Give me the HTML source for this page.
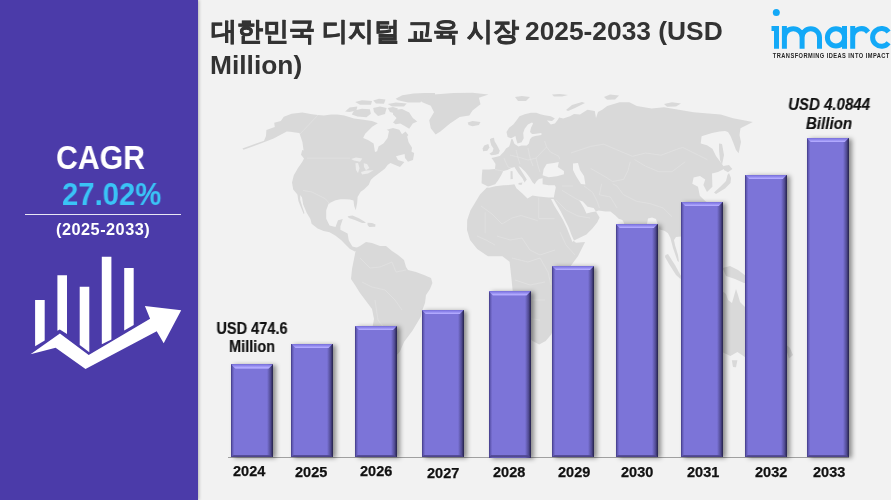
<!DOCTYPE html>
<html><head><meta charset="utf-8">
<style>
*{margin:0;padding:0;box-sizing:border-box}
html,body{width:891px;height:500px;overflow:hidden;background:#f2f2f2;font-family:"Liberation Sans",sans-serif;-webkit-font-smoothing:antialiased}
#left{position:absolute;left:0;top:0;width:198px;height:500px;background:#4b3ba9;box-shadow:1px 0 3px rgba(0,0,0,0.25)}
.t{position:absolute;white-space:nowrap;font-weight:bold;will-change:transform}
#title{will-change:transform;position:absolute;left:210px;top:14px;font-size:26.35px;line-height:34px;font-weight:bold;color:#333;width:560px}
.bar{position:absolute;box-shadow:3px 0.5px 4.5px rgba(0,0,0,0.42);background:
 linear-gradient(90deg,rgba(38,34,80,0) calc(100% - 6px),rgba(38,34,80,0.5) calc(100% - 2.5px),rgba(30,27,62,0.93) 100%),
 linear-gradient(90deg,rgba(50,42,110,0.8) 0,rgba(60,52,130,0.4) 1.5px,rgba(75,67,170,0) 3.2px),
 #7c74d8}
.bar:before{content:"";position:absolute;left:0;right:0;top:0;height:4.5px;background:linear-gradient(#776ed8 0,#8e86ec 1.6px,#b3abff 3.6px,#aca4fa 4.5px);clip-path:polygon(0 0,100% 0,calc(100% - 4.5px) 100%,4.5px 100%)}
.bar:after{content:"";position:absolute;left:0;right:0;bottom:0;height:2.8px;background:linear-gradient(rgba(82,74,150,0.85),rgba(72,64,128,0.95));clip-path:polygon(2.8px 0,calc(100% - 2.8px) 0,100% 100%,0 100%)}
.yr{will-change:transform;position:absolute;font-size:14.5px;-webkit-text-stroke:0.25px #111;font-weight:bold;color:#111;top:465px}
#axis{position:absolute;left:228.2px;top:456.9px;width:621px;height:1.1px;background:#a0a0a0}
</style></head><body>
<svg id="map" width="891" height="500" style="position:absolute;left:0;top:0">
<g fill="#d9d9d9">
<polygon points="242.4,148.6 252.0,145.0 264.0,140.8 266.0,136.0 266.4,130.0 274.8,127.0 274.2,122.8 280.8,121.0 283.8,116.8 291.6,113.8 302.4,112.6 312.0,114.2 318.0,115.0 324.0,115.4 331.2,114.4 337.2,114.4 344.4,115.6 354.0,118.6 363.6,119.8 372.0,121.0 377.8,123.3 372.2,126.8 365.2,133.8 363.1,138.0 368.0,140.1 373.6,143.6 375.0,152.0 377.1,151.3 378.5,146.4 383.4,143.6 387.6,138.0 389.0,131.0 386.7,129.7 393.0,127.9 399.3,129.7 402.0,134.2 405.6,131.5 408.3,135.1 407.2,136.6 408.6,142.2 412.1,147.8 411.4,152.0 407.2,153.4 401.6,154.8 396.0,156.2 398.0,160.0 404.4,162.0 400.0,167.0 390.4,163.0 387.6,165.0 384.8,168.8 379.2,173.0 373.6,177.2 370.8,180.0 368.8,184.8 364.0,189.6 360.7,191.7 357.6,197.0 357.2,203.0 355.7,210.3 354.2,206.0 353.5,200.5 350.0,199.5 345.0,199.3 340.5,199.3 335.5,200.2 328.7,203.5 326.2,210.3 326.2,218.7 329.6,225.4 335.5,227.1 338.0,220.2 342.8,219.0 340.4,226.2 340.4,229.8 347.6,233.4 348.8,240.6 352.4,246.6 357.2,247.8 359.6,249.0 354.8,251.4 350.0,249.0 346.4,245.4 341.6,240.6 335.6,235.8 329.6,232.2 323.6,231.0 317.6,228.6 311.6,223.8 310.4,219.0 306.8,213.0 303.2,204.6 302.0,197.4 300.2,195.0 300.2,199.8 302.0,205.8 304.4,213.0 303.8,214.2 300.8,207.0 298.4,201.0 297.4,194.4 293.2,189.6 292.0,182.4 293.8,175.2 298.0,168.0 302.2,162.0 304.0,158.4 301.0,154.8 302.2,150.0 303.6,150.4 302.4,142.0 300.0,134.8 299.4,133.0 295.2,132.4 290.4,131.8 286.8,131.4 273.6,138.4 264.0,142.3 252.0,146.8 243.5,149.8"/>
<polygon points="356.0,248.0 360.0,246.0 366.0,242.0 372.0,243.0 380.0,246.0 386.0,246.0 392.0,251.0 398.0,255.0 404.0,260.0 406.0,267.0 408.0,270.0 416.0,272.0 424.0,275.0 431.0,278.0 432.4,283.0 430.0,289.0 426.0,295.0 425.0,303.0 422.0,311.0 420.8,316.8 412.4,330.8 404.0,342.0 399.8,351.7 392.0,360.0 385.0,375.0 382.0,395.0 378.0,410.0 372.0,418.0 368.0,410.0 366.0,390.0 368.0,360.0 372.0,330.0 374.0,319.0 372.0,309.0 366.0,301.0 360.0,293.0 355.0,285.0 351.0,279.0 352.0,269.0 354.0,259.0 356.0,249.0"/>
<polygon points="481.6,183.2 481.8,176.0 482.4,169.6 489.0,169.5 495.0,169.0 495.5,164.0 493.0,160.0 491.4,158.0 495.6,156.9 499.8,155.9 501.9,153.8 503.9,151.7 506.0,148.6 509.1,146.5 510.2,143.4 511.2,139.2 512.5,139.0 514.3,143.4 515.4,144.4 518.5,146.5 521.6,145.5 526.8,145.5 528.9,143.4 530.0,139.2 532.0,137.1 535.2,136.1 541.4,135.1 541.4,133.0 534.1,134.0 532.0,134.0 530.0,131.9 531.0,127.8 533.1,123.6 532.0,122.6 527.9,124.6 524.7,128.8 523.2,133.0 523.7,138.2 521.6,142.3 517.5,143.4 516.4,140.3 515.4,136.1 511.2,138.2 507.6,137.1 506.5,131.9 509.1,127.8 513.3,124.6 516.4,120.5 519.5,116.3 524.7,114.2 531.0,112.7 536.2,112.7 540.4,114.2 544.5,115.3 550.8,116.3 554.9,118.4 552.0,121.0 547.0,120.5 550.8,124.6 554.9,123.6 558.0,119.4 559.1,117.4 563.2,118.4 570.0,116.3 574.0,114.0 580.0,114.6 587.4,109.7 594.8,110.9 596.0,118.0 598.0,112.0 602.2,109.7 607.2,106.0 619.5,102.3 629.4,102.3 636.8,106.0 651.6,108.5 664.0,107.2 678.8,109.7 693.6,112.2 708.4,113.4 720.7,114.6 733.1,118.3 752.8,122.0 747.9,124.5 740.5,128.2 739.5,135.0 741.0,142.0 738.6,153.3 736.0,150.0 733.0,142.0 730.5,136.0 728.0,132.0 725.0,131.0 719.6,131.5 712.0,133.0 701.6,136.2 700.7,143.4 707.0,145.2 712.4,148.8 716.0,156.0 721.4,163.2 725.0,168.6 718.0,172.0 712.0,173.5 712.4,186.7 707.0,192.0 703.4,184.9 705.2,179.5 700.0,176.0 693.6,177.6 692.3,183.8 698.0,186.7 699.8,195.7 705.2,201.0 710.9,205.0 705.0,215.0 695.0,220.0 687.9,221.6 684.0,230.0 681.0,236.5 676.0,237.0 674.0,240.0 675.0,245.0 678.0,255.0 679.0,262.0 677.5,261.0 673.0,248.0 670.4,238.0 668.0,233.2 664.4,230.8 659.6,229.6 657.5,224.0 656.0,219.0 652.0,217.5 648.0,218.5 647.0,224.0 645.0,232.0 638.0,250.0 632.0,245.0 626.0,230.0 623.6,222.0 622.3,220.0 618.7,218.8 615.1,215.2 610.4,211.6 605.6,211.6 598.4,210.4 596.0,211.6 599.6,217.6 597.2,222.4 592.4,228.4 586.4,234.4 579.2,238.0 573.5,240.8 576.0,242.8 585.1,242.0 577.9,256.3 567.1,270.7 560.0,285.0 555.0,296.0 553.5,315.0 553.0,330.0 551.2,334.6 545.7,341.1 539.2,344.4 532.6,341.1 527.6,336.0 520.4,321.0 513.2,296.0 511.4,277.9 509.6,261.7 502.4,256.3 488.0,256.3 477.2,249.1 470.0,240.1 467.0,230.0 467.2,220.0 470.4,210.4 475.2,202.4 480.0,194.4 486.4,188.0 488.0,186.4"/>
<polygon points="690.0,310.0 695.0,300.0 705.0,295.0 714.0,292.0 722.0,291.0 726.0,294.0 728.0,300.0 732.0,303.0 734.0,296.0 736.0,289.0 738.0,295.0 740.0,302.0 748.0,310.0 755.0,320.0 758.0,335.0 752.0,350.0 745.0,357.0 737.4,352.0 730.4,356.0 722.0,352.0 715.0,348.0 705.0,350.0 695.0,352.0 690.0,340.0 688.0,320.0"/>
<polygon points="345.1,111.6 349.6,107.6 357.4,106.5 356.3,110.4 349.6,112.1"/>
<polygon points="351.8,114.4 354.1,110.4 361.9,108.8 369.8,109.3 370.9,113.8 366.4,117.2 357.4,116.6"/>
<polygon points="355.2,102.0 362.0,100.3 372.0,101.0 371.0,104.8 360.0,104.8"/>
<polygon points="373.2,100.5 379.0,98.7 385.5,99.5 384.0,103.7 376.0,103.5"/>
<polygon points="387.7,104.0 396.0,102.6 406.8,103.5 404.0,106.5 392.0,106.5"/>
<polygon points="373.2,108.0 380.0,106.5 386.6,108.0 385.0,114.0 378.0,116.0 374.0,112.0"/>
<polygon points="387.7,108.0 393.0,107.1 397.9,108.5 396.0,113.8 390.0,112.0"/>
<polygon points="395.6,98.7 402.3,95.3 413.6,93.6 424.8,93.0 435.0,93.0 435.0,97.0 422.5,99.2 420.3,102.6 408.0,102.6 397.9,100.3"/>
<polygon points="393.0,109.9 402.0,109.0 409.2,112.6 412.8,118.0 417.3,121.6 412.8,123.4 409.2,128.8 404.7,126.1 400.2,123.4 395.7,124.3 393.0,122.5 396.6,118.0 393.0,114.4"/>
<polygon points="731.8,360.3 737.4,360.3 736.0,367.3 733.0,367.0"/>
<polygon points="722.6,268.0 730.0,266.0 738.0,270.0 746.0,276.0 752.0,283.0 744.0,283.0 735.0,279.0 726.0,276.0"/>
<polygon points="786.4,345.0 790.0,348.0 793.0,355.0 789.0,358.4 787.0,352.0"/>
<polygon points="419.6,100.2 434.0,94.6 453.3,93.0 472.5,92.7 488.5,94.6 478.9,97.8 480.5,104.2 472.5,110.6 469.3,115.4 459.7,117.0 450.0,123.4 440.4,131.4 435.6,134.6 430.8,128.2 429.2,120.2 434.0,112.2 430.8,105.8 422.8,102.6"/>
<polygon points="467.7,122.6 472.5,121.0 480.5,122.1 478.9,125.0 472.5,126.3 468.5,125.0"/>
<polygon points="491.4,138.2 494.0,137.7 494.6,141.3 496.6,144.4 498.2,147.5 499.8,150.7 498.7,153.8 495.6,154.8 491.4,155.3 489.4,153.8 492.5,151.7 493.5,148.6 491.4,145.5 490.4,142.3 489.9,139.2"/>
<polygon points="484.2,145.5 488.3,143.9 489.4,147.5 487.3,150.7 483.1,151.2 482.6,148.6"/>
<polygon points="515.0,97.0 522.0,96.0 530.0,97.0 526.0,101.0 518.0,101.0"/>
<polygon points="582.0,102.0 585.0,103.0 575.0,108.0 568.0,111.0 566.0,110.0 572.0,105.0"/>
<polygon points="723.2,166.0 729.0,165.0 732.3,169.0 728.0,172.3 724.0,170.0"/>
<polygon points="729.0,173.0 731.0,178.0 730.5,183.0 725.0,188.5 716.0,193.9 714.0,192.5 720.0,187.0 726.0,181.0 727.5,175.0"/>
<polygon points="719.0,143.4 722.0,144.0 724.0,155.0 722.0,165.0 720.0,160.0 719.0,150.0"/>
<polygon points="665.5,255.0 668.0,254.0 675.0,265.0 681.0,276.0 680.5,279.0 676.0,275.0 669.0,264.0 665.0,257.0"/>
<polygon points="510.5,171.2 512.5,171.0 512.8,179.0 510.5,179.2"/>
<polygon points="518.5,183.0 522.5,182.5 521.5,185.0 518.5,184.6"/>
<polygon points="552.0,94.5 560.0,94.0 568.0,95.0 562.0,96.6 554.0,96.4"/>
<polygon points="604.0,97.0 610.0,94.6 619.0,95.5 615.0,99.5 607.0,99.8"/>
<polygon points="664.0,104.0 672.0,102.3 681.0,103.5 676.0,106.5 667.0,106.8"/>
<polygon points="347.6,216.3 352.4,215.6 358.4,218.0 364.4,221.6 366.0,223.0 362.0,223.0 354.8,220.0 348.8,218.0"/>
<polygon points="367.5,222.8 372.0,223.0 375.5,224.5 375.2,226.8 369.2,227.0 367.5,225.0"/>
<polygon points="404.4,152.0 410.0,151.0 414.2,153.0 413.0,160.0 408.0,161.8 405.0,158.0"/>
</g><g fill="none" stroke="#e4e4e4" stroke-width="0.6">
<polyline points="307.0,158.2 350.0,158.2"/>
<polyline points="318.0,115.0 300.0,134.0"/>
<polyline points="303.0,190.5 312.0,192.0 318.0,195.0 325.0,198.5 330.0,204.0"/>
<polyline points="481.0,206.0 492.0,214.0 502.0,224.0"/>
<polyline points="485.2,212.3 485.2,233.3"/>
<polyline points="538.8,197.6 538.8,218.6 554.5,218.6"/>
<polyline points="502.0,224.0 512.0,218.0 521.0,215.5 537.7,220.7"/>
<polyline points="497.0,236.0 510.0,240.0 522.0,238.0"/>
<polyline points="522.0,238.0 530.0,250.0 540.0,255.0 555.0,250.0"/>
<polyline points="512.0,258.0 528.0,262.0 540.0,258.0"/>
<polyline points="540.0,258.0 548.0,272.0 551.0,285.0"/>
<polyline points="560.0,232.0 566.0,245.0 575.0,255.0"/>
<polyline points="515.0,280.0 530.0,285.0 545.0,282.0"/>
<polyline points="530.0,300.0 545.0,300.0"/>
<polyline points="525.0,318.0 540.0,320.0"/>
<polyline points="477.0,236.0 486.0,240.0 495.0,245.0"/>
<polyline points="544.6,141.0 546.6,147.0 550.6,152.2 558.7,156.2 559.7,159.2"/>
<polyline points="510.0,155.0 518.0,157.0 528.0,160.0 536.0,158.0 546.6,147.0"/>
<polyline points="504.0,158.0 506.0,163.0 508.0,167.0 512.0,168.0"/>
<polyline points="516.0,150.0 518.0,158.0 520.0,164.0"/>
<polyline points="528.0,148.0 530.0,158.0 533.0,166.0"/>
<polyline points="536.0,158.0 538.0,166.0 540.0,172.0"/>
<polyline points="495.0,169.5 503.0,171.0"/>
<polyline points="570.8,153.0 590.6,146.4 603.8,144.2 619.2,150.8 632.4,156.3"/>
<polyline points="632.4,156.3 645.6,153.0 661.0,155.2 678.6,148.6 683.0,147.5 694.0,153.0 707.3,159.6"/>
<polyline points="634.6,159.6 645.6,166.2 658.8,171.7 672.0,171.7 685.2,161.8"/>
<polyline points="590.6,168.4 606.0,177.2 612.6,181.6 623.6,179.4 628.0,170.6 630.2,161.8"/>
<polyline points="612.6,183.8 617.0,186.0 623.6,194.8 636.8,201.4 650.0,203.6 663.2,208.0 672.0,216.8"/>
<polyline points="584.0,186.0 592.8,192.6 597.2,201.4 599.4,208.0"/>
<polyline points="601.6,183.8 599.4,194.8 610.4,197.0 617.0,208.0"/>
<polyline points="562.0,186.0 573.0,186.0"/>
<polyline points="562.0,190.4 573.0,197.0 580.0,201.0"/>
<polyline points="556.0,200.0 566.0,210.0 578.0,216.0 590.0,218.0"/>
<polyline points="360.0,258.0 370.0,268.0 380.0,267.0 392.0,262.0"/>
<polyline points="362.0,282.0 372.0,287.0 385.0,290.0 395.0,300.0 402.0,310.0"/>
<polyline points="375.0,300.0 378.0,320.0 386.0,330.0"/>
<polyline points="392.0,262.0 396.0,272.0 406.0,270.0"/>
</g><g fill="#f2f2f2">
<polygon points="487.0,186.8 490.0,186.0 495.2,184.3 498.2,180.2 501.2,175.2 503.3,171.1 507.3,170.1 511.3,168.1 514.4,167.1 518.4,173.2 522.4,178.2 524.5,182.2 523.5,183.8 526.8,179.5 524.8,176.2 521.0,170.3 518.6,166.3 520.4,167.1 525.5,172.1 529.5,177.2 532.5,182.2 534.6,184.3 536.6,181.2 539.0,179.0 542.6,178.2 542.6,184.3 548.7,185.3 554.8,185.3 555.8,187.3 554.8,192.3 553.8,197.4 548.7,197.4 538.6,196.4 532.5,195.4 527.5,198.4 522.4,193.4 516.4,188.3 514.4,184.3 511.3,184.8 503.3,185.3 495.2,186.3 489.1,187.8 487.0,187.5"/>
<polygon points="543.7,169.1 546.7,164.1 553.8,163.1 558.8,162.0 557.8,167.1 563.9,171.1 563.9,174.2 556.8,176.2 548.7,177.2 542.6,175.2"/>
<polygon points="573.0,163.6 578.0,163.0 580.0,170.0 584.0,176.0 585.4,184.6 581.0,184.0 576.0,176.0 573.0,170.0"/>
<polygon points="551.0,199.0 554.5,206.0 558.8,213.0 563.0,220.0 566.8,228.0 570.0,236.0 572.5,242.0 574.0,240.4 571.5,235.0 568.5,227.0 564.5,219.0 560.5,211.0 556.5,204.0 553.5,199.0"/>
<polygon points="579.2,200.2 582.8,201.4 587.6,206.8 593.6,208.0 596.0,211.6 591.2,212.2 586.4,213.4 584.0,208.0 580.4,202.0"/>
</g><g fill="#d9d9d9">
<polygon points="510.5,171.2 512.5,171.0 512.8,179.0 510.5,179.2"/>
<polygon points="518.5,183.0 522.5,182.5 521.5,185.0 518.5,184.6"/>
</g><g fill="#ececec">
<polygon points="351.2,159.0 356.0,157.6 362.4,158.5 360.0,161.8 354.0,160.5"/>
<polygon points="355.4,163.2 358.0,163.0 359.6,168.0 358.0,173.0 356.0,170.0"/>
<polygon points="363.8,163.2 367.0,164.0 369.4,168.0 366.0,170.2 364.0,167.0"/>
<polygon points="361.0,172.0 366.0,170.5 373.6,170.2 368.0,173.5 362.0,174.4"/>
</g>
</svg>
<div id="left">
  <div class="t" style="left:56.3px;top:140.2px;font-size:34px;line-height:1;color:#fff;transform:scaleX(0.89);transform-origin:0 0">CAGR</div>
  <div class="t" style="left:62px;top:178.5px;font-size:31px;line-height:1;color:#3ac3f6;transform:scaleX(0.945);transform-origin:0 0">27.02%</div>
  <div style="position:absolute;left:25px;top:214px;width:156px;height:1px;background:#e8e6f4"></div>
  <div class="t" style="left:56.2px;top:220.3px;font-size:16.3px;line-height:1.15;letter-spacing:0.5px;color:#fff">(2025-2033)</div>
  <svg width="198" height="500" style="position:absolute;left:0;top:0">
    <g fill="#fff">
      <polygon points="35.1,300 44.7,300 44.7,340.6 35.1,346.2"/>
      <polygon points="57.4,275.2 67,275.2 67,334 59.8,329.5 57.4,330.8"/>
      <polygon points="79.7,286.7 89.3,286.7 89.3,352.3 79.7,345.1"/>
      <polygon points="101.8,256.7 111.4,256.7 111.4,339.5 101.8,344.3"/>
      <polygon points="124.2,268 133.7,268 133.7,325 124.2,330.6"/>
      <polygon points="30.5,354.2 59.9,333.4 88.7,354.9 150.1,318.7 144.9,306.1 181.2,310.3 163.7,343.2 156.7,331.3 85.5,369 55.6,347.7"/>
    </g>
  </svg>
</div>
<div id="title"><span style="-webkit-text-stroke:0.55px #333;position:relative;left:1px;font-size:26px">대한민국 디지털 교육 시장</span> 2025-2033 (USD Million)</div>
<svg width="130" height="64" viewBox="761 0 130 64" style="position:absolute;left:761px;top:0">
  <g fill="none" stroke="#13a9f7" stroke-width="5">
    <circle cx="776.3" cy="12.4" r="3.5" fill="#13a9f7" stroke="none"/>
    <path d="M771.5 28.6H776.5V48.7"/>
    <path d="M784.4 26.1V48.7M784.4 48.7V37.5A8.85 8.85 0 0 1 802.1 37.5V48.7M802.1 37.5A8.7 8.7 0 0 1 819.5 37.5V48.7"/>
    <circle cx="836" cy="37.4" r="8.6"/>
    <path d="M844.5 26V48.8"/>
    <path d="M852.7 26V48.8M852.7 37.4A8.6 8.6 0 0 1 868.1 32.1"/>
    <path d="M888.6 32.04A8.9 8.9 0 1 0 888.6 42.76"/>
  </g>
  <text transform="translate(772.8 57.7) scale(0.84 1)" x="0" y="0" font-size="6.8" font-weight="bold" fill="#262626" textLength="138.7" lengthAdjust="spacing">TRANSFORMING IDEAS INTO IMPACT</text>
</svg>
<div id="axis"></div>
<div class="bar" style="left:231px;top:364.2px;width:42px;height:93.3px"></div>
<div class="bar" style="left:291px;top:343.6px;width:42px;height:113.9px"></div>
<div class="bar" style="left:355px;top:325.9px;width:42px;height:131.6px"></div>
<div class="bar" style="left:421.5px;top:309.8px;width:42.5px;height:147.7px"></div>
<div class="bar" style="left:488.5px;top:291px;width:42.5px;height:166.5px"></div>
<div class="bar" style="left:552px;top:265.9px;width:42px;height:191.6px"></div>
<div class="bar" style="left:615.5px;top:223.8px;width:42.5px;height:233.7px"></div>
<div class="bar" style="left:681px;top:201.8px;width:42px;height:255.7px"></div>
<div class="bar" style="left:745px;top:174.8px;width:42px;height:282.7px"></div>
<div class="bar" style="left:806.5px;top:137.8px;width:42.5px;height:319.7px"></div>
<div class="yr" style="left:232.6px;top:462.9px">2024</div>
<div class="yr" style="left:295.0px;top:464.2px">2025</div>
<div class="yr" style="left:359.8px;top:462.9px">2026</div>
<div class="yr" style="left:427.4px;top:465px">2027</div>
<div class="yr" style="left:492.9px;top:464.2px">2028</div>
<div class="yr" style="left:557.7px;top:464.2px">2029</div>
<div class="yr" style="left:620.5px;top:464.2px">2030</div>
<div class="yr" style="left:686.6px;top:464.2px">2031</div>
<div class="yr" style="left:754.8px;top:464.2px">2032</div>
<div class="yr" style="left:812.6px;top:464.2px">2033</div>
<div class="t" style="left:212px;top:320px;font-size:15.6px;color:#111;-webkit-text-stroke:0.2px #111;line-height:18px;text-align:center;width:80px;transform:scaleX(0.93)">USD 474.6<br>Million</div>
<div class="t" style="left:784px;top:94.9px;font-size:16px;color:#111;-webkit-text-stroke:0.15px #111;line-height:19.4px;font-style:italic;text-align:center;width:90px;transform:scaleX(0.94)">USD 4.0844<br>Billion</div>
</body></html>
